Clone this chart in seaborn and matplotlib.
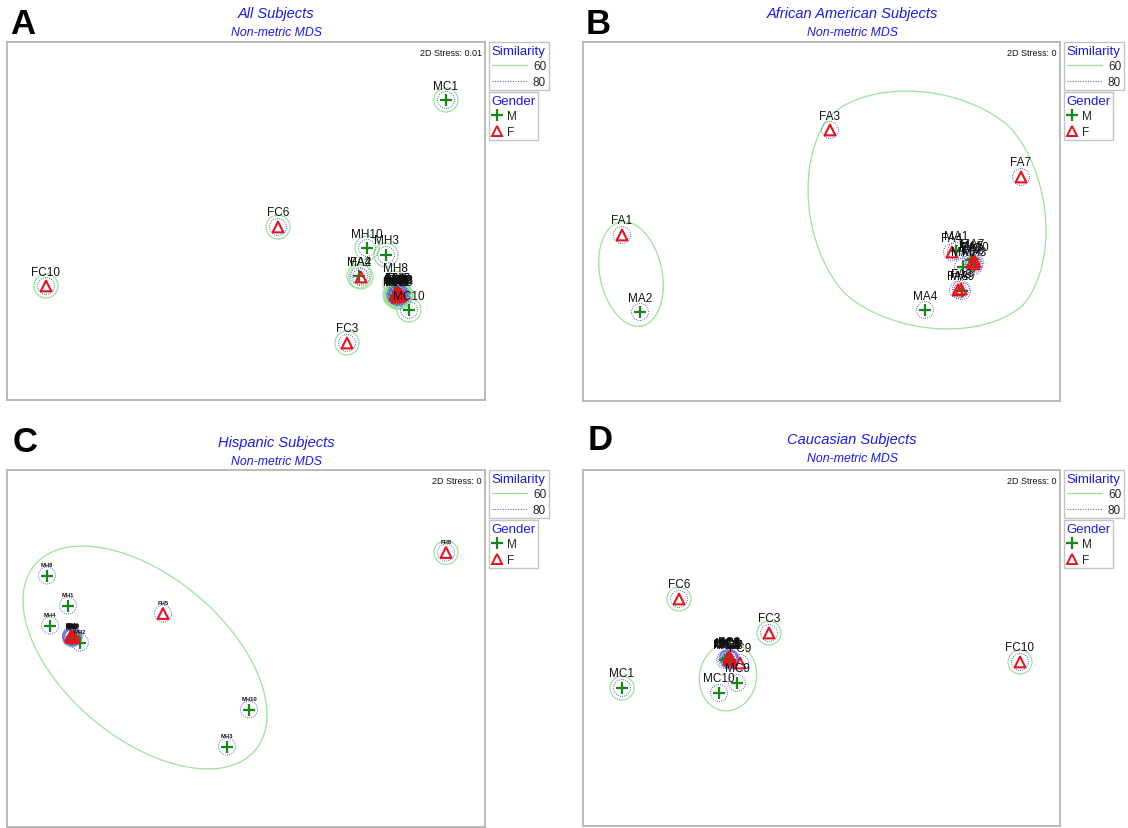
import numpy as np
import pandas as pd
import matplotlib
matplotlib.use("Agg")
import matplotlib.pyplot as plt
import seaborn as sns
from matplotlib.patches import Circle
from matplotlib.lines import Line2D

sns.set_style("white")
plt.rcParams["font.family"] = ["Liberation Sans", "DejaVu Sans"]

# ---------------- data: 2D non-metric MDS coordinates ----------------
# A: all subjects
a_names = ["MC1", "FC6", "MH10", "MH3", "MA2", "FA4", "MH8", "MC10", "FC10", "FC3",
           "FA3", "MA4", "FA7", "FA1", "MH1", "MH2", "MH4", "FH5", "FH8", "MC9",
           "FC9", "MA9", "FA9", "MC2", "FC8"]
a_x = [2.00, 0.32, 1.21, 1.40, 1.13, 1.15, 1.49, 1.63, -2.00, 1.01,
       1.52, 1.51, 1.53, 1.50, 1.52, 1.54, 1.50, 1.53, 1.51, 1.54,
       1.49, 1.52, 1.55, 1.53, 1.51]
a_y = [1.21, -0.06, -0.27, -0.34, -0.55, -0.56, -0.62, -0.89, -0.65, -1.22,
       -0.73, -0.74, -0.75, -0.72, -0.76, -0.73, -0.75, -0.72, -0.76, -0.76,
       -0.74, -0.71, -0.74, -0.74, -0.73]

# B: African American subjects
b_names = ["FA3", "FA7", "FA1", "MA2", "MA4", "FA4", "MA1", "FA6", "MA3", "MA5",
           "FA5", "MA6", "FA8", "MA9", "FA9", "MA7", "FA10"]
b_x = [0.085, 1.995, -1.995, -1.815, 1.035, 1.305, 1.345, 1.525, 1.525, 1.495,
       1.505, 1.415, 1.365, 1.405, 1.395, 1.510, 1.535]
b_y = [0.915, 0.445, -0.135, -0.905, -0.885, -0.305, -0.295, -0.425, -0.445, -0.385,
       -0.405, -0.455, -0.685, -0.695, -0.675, -0.370, -0.400]

# C: Hispanic subjects
c_names = ["MH8", "MH1", "MH4", "MH2", "FH5", "MH10", "MH3", "FH8",
           "FH1", "FH2", "MH5", "MH6", "FH3", "MH7", "FH4", "FH6", "MH9", "FH7"]
c_x = [-1.99, -1.78, -1.96, -1.66, -0.83, 0.03, -0.19, 2.00,
       -1.75, -1.73, -1.74, -1.73, -1.75, -1.74, -1.72, -1.745, -1.735, -1.75]
c_y = [0.73, 0.43, 0.23, 0.06, 0.35, -0.61, -0.98, 0.96,
       0.13, 0.11, 0.12, 0.13, 0.11, 0.10, 0.12, 0.125, 0.115, 0.12]

# D: Caucasian subjects
d_names = ["FC6", "FC3", "FC10", "MC1", "MC10", "MC9", "FC9",
           "MC2", "FC1", "MC3", "FC2", "MC4", "FC8", "MC5", "FC5", "MC6", "FC7"]
d_x = [-1.425, -0.525, 1.985, -1.995, -1.025, -0.845, -0.815,
       -0.965, -0.92, -0.915, -0.925, -0.93, -0.91, -0.935, -0.92, -0.95, -0.90]
d_y = [0.49, 0.15, -0.14, -0.40, -0.45, -0.35, -0.15,
       -0.12, -0.10, -0.12, -0.09, -0.11, -0.11, -0.10, -0.12, -0.11, -0.12]

stress = ["0.01", "0", "0", "0"]
titles = ["All Subjects", "African American Subjects", "Hispanic Subjects", "Caucasian Subjects"]
letters = ["A", "B", "C", "D"]
similarity_levels = ["60", "80"]
gender_labels = ["M", "F"]

# singletons enclosed at 60% similarity
a_sim60 = a_names
b_sim60 = []
c_sim60 = ["FH8"]
d_sim60 = ["FC6", "FC3", "FC10", "MC1"]

# group outlines at 60% similarity: centre x, centre y, semi-axis a, semi-axis b, angle, exponent
a_groups = []
b_groups = [(-1.905, -0.525, 0.53, 0.31, -78, 2.0),
            (1.055, 0.115, 1.35, 1.17, -45, 1.7)]
c_groups = [(-1.01, -0.09, 1.44, 0.81, -40, 2.0)]
d_groups = [(-0.935, -0.29, 0.34, 0.285, 80, 2.0)]

# ---------------- styling ----------------
W, H = 1128, 829
GREEN_C = "#9be39b"
BLUE_C = "#5c5cd6"
PLUS_C = "#16861a"
TRI_C = "#e3141c"
FRAME_C = "#b4b4b4"
TITLE_C = "#1a1ae6"

fig = plt.figure(figsize=(W / 100, H / 100), dpi=100)


def add_px_axes(x0, y0, x1, y1):
    return fig.add_axes([x0 / W, 1 - y1 / H, (x1 - x0) / W, (y1 - y0) / H])


def outline(ax, cx, cy, a, b, ang, n):
    t = np.linspace(0, 2 * np.pi, 500)
    c, s = np.cos(t), np.sin(t)
    u = a * np.sign(c) * np.abs(c) ** (2 / n)
    v = b * np.sign(s) * np.abs(s) ** (2 / n)
    r = np.deg2rad(ang)
    ax.plot(cx + u * np.cos(r) - v * np.sin(r), cy + u * np.sin(r) + v * np.cos(r),
            color=GREEN_C, lw=0.9, zorder=2)


def panel(box, names, xs, ys, sim60, groups, stress_val, small=False):
    x0, y0, x1, y1 = box
    ax = add_px_axes(x0, y0, x1, y1)
    df = pd.DataFrame({"name": names, "x": xs, "y": ys})
    df["sex"] = df["name"].str[0]
    for _, r in df.iterrows():
        if r["name"] in sim60:
            ax.add_patch(Circle((r.x, r.y), 0.12, fill=False, ec=GREEN_C, lw=0.9, zorder=2))
    for _, r in df.iterrows():
        ax.add_patch(Circle((r.x, r.y), 0.085, fill=False, ec=BLUE_C, lw=0.7,
                            ls=(0, (1, 1.3)), zorder=3))
    for g in groups:
        outline(ax, *g)
    men = df[df.sex == "M"]
    women = df[df.sex == "F"]
    sns.scatterplot(data=men, x="x", y="y", marker="+", s=85, color=PLUS_C,
                    linewidth=1.6, ax=ax, legend=False, zorder=4)
    sns.scatterplot(data=women, x="x", y="y", marker="^", s=60, color=TRI_C,
                    linewidth=1.5, ax=ax, legend=False, zorder=4)
    ax.collections[-1].set_facecolor("none")
    ax.collections[-1].set_edgecolor(TRI_C)
    for _, r in df.iterrows():
        if small:
            ax.text(r.x, r.y + 0.11, r["name"], ha="center", va="center",
                    fontsize=4.2, fontweight="bold", color="#111111", zorder=5)
        else:
            ax.text(r.x, r.y + 0.145, r["name"], ha="center", va="center",
                    fontsize=8.5, color="#111111", zorder=5)
    wx = (x1 - x0) / 200
    hy = (y1 - y0) / 200
    ax.set_xlim(-wx, wx)
    ax.set_ylim(-hy, hy)
    ax.set_xticks([])
    ax.set_yticks([])
    ax.set_xlabel("")
    ax.set_ylabel("")
    for sp in ax.spines.values():
        sp.set_color(FRAME_C)
        sp.set_linewidth(1.3)
    ax.text(0.993, 0.982, f"2D Stress: {stress_val}", transform=ax.transAxes,
            ha="right", va="top", fontsize=6.5, color="#111111")

    # legends beside the ordination
    bx = 1 + 4 / (x1 - x0)
    sim_handles = [Line2D([], [], color=GREEN_C, lw=0.9),
                   Line2D([], [], color=BLUE_C, lw=0.8, ls=(0, (1, 1.3)))]
    leg1 = ax.legend(sim_handles, similarity_levels, title="Similarity", loc="upper left",
                     bbox_to_anchor=(bx, 1.0), borderaxespad=0, frameon=True, fancybox=False,
                     fontsize=8.5, title_fontsize=9.5, handlelength=3.0, handletextpad=0.5,
                     borderpad=0.22, labelspacing=0.3, alignment="left", markerfirst=True)
    leg1.get_title().set_color(TITLE_C)
    leg1.get_frame().set_edgecolor(FRAME_C)
    leg1.get_frame().set_linewidth(1.0)
    ax.add_artist(leg1)
    gen_handles = [Line2D([], [], marker="+", color=PLUS_C, ls="none", ms=8.5, mew=1.6),
                   Line2D([], [], marker="^", mfc="none", mec=TRI_C, ls="none", ms=6.5, mew=1.4)]
    by = 1 - 50 / (y1 - y0)
    leg2 = ax.legend(gen_handles, gender_labels, title="Gender", loc="upper left",
                     bbox_to_anchor=(bx, by), borderaxespad=0, frameon=True, fancybox=False,
                     fontsize=8.5, title_fontsize=9.5, handlelength=0.9, handletextpad=0.4,
                     borderpad=0.22, labelspacing=0.3, alignment="left")
    leg2.get_title().set_color(TITLE_C)
    leg2.get_frame().set_edgecolor(FRAME_C)
    leg2.get_frame().set_linewidth(1.0)
    return ax


boxes = [(7, 43, 485, 401), (583, 43, 1060, 402), (7, 471, 485, 828), (583, 471, 1060, 827)]
panel(boxes[0], a_names, a_x, a_y, a_sim60, a_groups, stress[0])
panel(boxes[1], b_names, b_x, b_y, b_sim60, b_groups, stress[1])
panel(boxes[2], c_names, c_x, c_y, c_sim60, c_groups, stress[2], small=True)
panel(boxes[3], d_names, d_x, d_y, d_sim60, d_groups, stress[3])

# panel titles and letters
title_pos = [(276, 14, 33), (852, 14, 33), (276, 443, 462), (852, 440, 459)]
letter_pos = [(23, 25), (598, 25), (25, 443), (600, 441)]
for (tx, ty1, ty2), (lx, ly), t, l in zip(title_pos, letter_pos, titles, letters):
    fig.text(tx / W, 1 - ty1 / H, t, ha="center", va="center", fontsize=10.5,
             style="italic", color=TITLE_C)
    fig.text(tx / W, 1 - ty2 / H, "Non-metric MDS", ha="center", va="center",
             fontsize=8.8, style="italic", color=TITLE_C)
    fig.text(lx / W, 1 - ly / H, l, ha="center", va="center", fontsize=25,
             fontweight="bold", color="black")

fig.savefig("out.png", dpi=100)
